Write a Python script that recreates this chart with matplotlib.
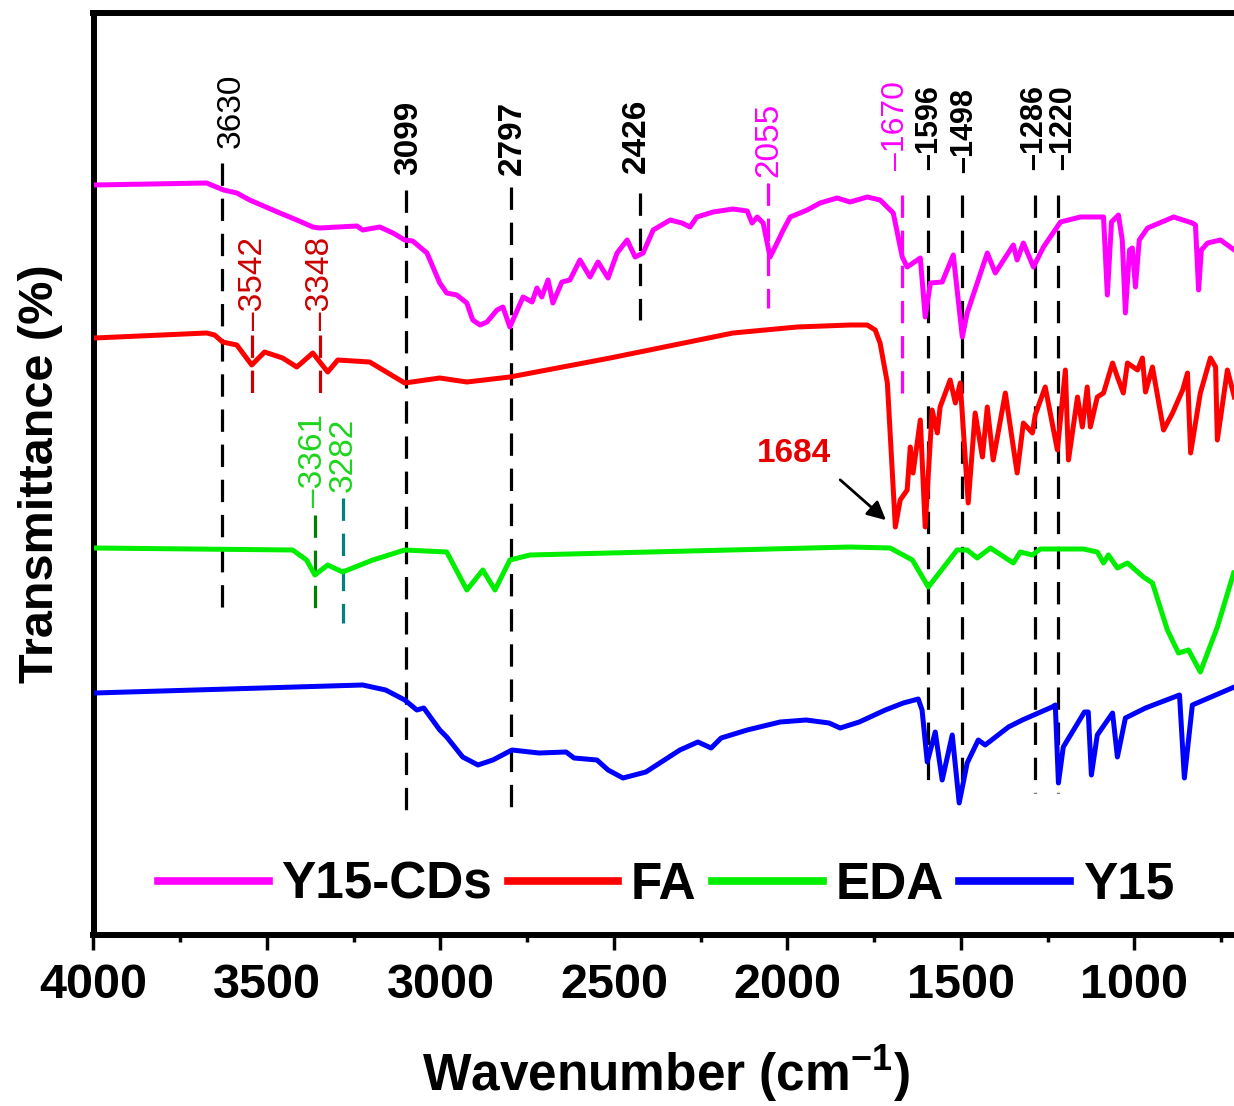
import matplotlib
matplotlib.use("Agg")
import matplotlib.pyplot as plt
from matplotlib.ticker import MultipleLocator

plt.rcParams["font.family"] = ["Liberation Sans", "DejaVu Sans"]
plt.rcParams["mathtext.fontset"] = "custom"
plt.rcParams["mathtext.rm"] = "Liberation Sans:bold"
plt.rcParams["mathtext.bf"] = "Liberation Sans:bold"
plt.rcParams["mathtext.default"] = "bf"

# FTIR spectra (wavenumber in cm-1, transmittance in arbitrary offset units)
cds_wn = [3997, 3674, 3625, 3587, 3550, 3463, 3414, 3368, 3348, 3241, 3224, 3175, 3137, 3103,
          3080, 3039, 3002, 2982, 2953, 2924, 2907, 2886, 2866, 2837, 2820, 2800, 2762, 2736,
          2722, 2708, 2690, 2676, 2650, 2627, 2598, 2569, 2546, 2517, 2491, 2462, 2439, 2416,
          2387, 2338, 2304, 2281, 2261, 2214, 2157, 2116, 2102, 2087, 2070, 2050, 2030, 2012,
          1992, 1943, 1906, 1857, 1819, 1770, 1733, 1695, 1669, 1655, 1617, 1603, 1588, 1554,
          1522, 1496, 1482, 1424, 1401, 1349, 1338, 1320, 1291, 1262, 1213, 1156, 1098, 1089,
          1078, 1066, 1046, 1035, 1026, 1014, 1006, 997, 986, 962, 887, 833, 824, 815, 807, 789,
          752, 712]
cds_t = [75.0, 75.2, 74.5, 74.2, 73.5, 72.2, 71.5, 70.8, 70.7, 70.9, 70.5, 70.8, 70.2, 69.5,
         69.4, 68.2, 65.2, 64.2, 64.0, 63.2, 61.5, 61.0, 61.3, 62.5, 62.8, 60.8, 63.8, 63.3,
         64.7, 63.8, 65.5, 63.2, 65.3, 65.5, 67.5, 65.8, 67.3, 65.7, 68.2, 69.5, 67.8, 68.2,
         70.5, 71.5, 71.2, 70.8, 71.8, 72.3, 72.6, 72.4, 71.2, 71.8, 71.2, 67.8, 69.2, 70.5,
         71.8, 72.5, 73.2, 73.7, 73.3, 73.8, 73.5, 72.2, 67.8, 66.8, 67.7, 61.8, 65.2, 65.3,
         68.0, 59.8, 62.2, 68.2, 66.2, 69.0, 67.5, 69.2, 66.8, 68.8, 71.3, 71.8, 71.8, 71.8,
         64.0, 71.3, 72.0, 69.5, 62.2, 68.5, 68.7, 64.8, 69.5, 70.7, 71.8, 71.2, 71.0, 64.5,
         68.5, 69.2, 69.5, 68.5]

fa_wn = [3997, 3674, 3651, 3628, 3587, 3544, 3507, 3455, 3414, 3368, 3325, 3296, 3204, 3103,
         3002, 2924, 2800, 2511, 2157, 1972, 1819, 1770, 1747, 1733, 1712, 1689, 1675, 1655,
         1646, 1638, 1617, 1603, 1583, 1568, 1560, 1531, 1516, 1502, 1479, 1459, 1438, 1424,
         1407, 1372, 1338, 1320, 1294, 1286, 1257, 1222, 1199, 1190, 1164, 1150, 1136, 1127,
         1107, 1089, 1063, 1049, 1032, 1020, 991, 977, 968, 948, 916, 890, 861, 847, 838, 810,
         781, 766, 761, 732, 712]
fa_t = [59.7, 60.2, 60.0, 59.3, 59.0, 57.0, 58.3, 57.7, 56.8, 58.2, 56.3, 57.5, 57.3, 55.2,
        55.7, 55.3, 55.8, 57.7, 60.2, 60.8, 61.0, 61.0, 60.5, 59.2, 55.2, 40.8, 43.5, 44.5,
        48.8, 46.2, 51.5, 40.8, 52.5, 50.2, 52.8, 55.5, 53.2, 55.2, 43.2, 52.2, 47.8, 52.8,
        47.5, 54.2, 46.2, 51.2, 50.2, 52.0, 54.8, 48.5, 56.5, 47.5, 53.8, 50.8, 54.8, 50.8,
        53.8, 54.2, 57.2, 55.8, 54.2, 57.2, 56.5, 57.7, 54.3, 56.8, 50.5, 52.2, 54.5, 56.2,
        48.2, 54.2, 57.7, 56.8, 49.5, 56.5, 53.8]

eda_wn = [3997, 3426, 3386, 3362, 3325, 3282, 3195, 3103, 2982, 2924, 2878, 2843, 2800, 2742,
          1819, 1704, 1640, 1594, 1511, 1482, 1453, 1415, 1349, 1329, 1294, 1271, 1147, 1107,
          1089, 1075, 1049, 1020, 974, 948, 905, 873, 844, 810, 761, 714]
eda_t = [38.7, 38.5, 37.5, 36.0, 37.0, 36.3, 37.5, 38.5, 38.3, 34.5, 36.5, 34.5, 37.5, 38.0,
         38.8, 38.7, 37.5, 34.8, 38.5, 38.5, 37.7, 38.7, 37.2, 38.3, 38.0, 38.6, 38.6, 38.3,
         37.2, 38.0, 36.7, 37.2, 35.8, 35.2, 30.5, 28.2, 28.5, 26.3, 30.8, 36.2]

y15_wn = [3997, 3224, 3158, 3103, 3068, 3048, 3002, 2982, 2936, 2892, 2849, 2794, 2716, 2638,
          2615, 2549, 2517, 2474, 2408, 2310, 2258, 2220, 2191, 2116, 2021, 1946, 1880, 1848,
          1793, 1718, 1666, 1623, 1612, 1597, 1574, 1554, 1525, 1505, 1482, 1450, 1430, 1363,
          1323, 1237, 1228, 1219, 1205, 1144, 1133, 1124, 1107, 1063, 1049, 1026, 968, 870,
          856, 833, 712]
y15_t = [24.2, 25.0, 24.5, 23.5, 22.5, 22.7, 20.5, 19.8, 17.8, 17.0, 17.5, 18.5, 18.2, 18.3,
         17.7, 17.5, 16.5, 15.7, 16.3, 18.5, 19.3, 18.7, 19.7, 20.5, 21.3, 21.5, 21.2, 20.7,
         21.3, 22.5, 23.2, 23.6, 22.5, 17.3, 20.3, 15.5, 20.0, 13.2, 17.2, 19.5, 19.0, 20.8,
         21.5, 22.8, 23.0, 15.2, 18.8, 22.3, 22.3, 16.0, 20.0, 22.2, 17.8, 21.7, 22.7, 24.0,
         15.7, 23.0, 24.8]

series_names = ["Y15-CDs", "FA", "EDA", "Y15"]
series_colors = ["#FF00FF", "#FF0000", "#00EE00", "#0000FF"]
series_wn = [cds_wn, fa_wn, eda_wn, y15_wn]
series_t = [cds_t, fa_t, eda_t, y15_t]

# peak markers: wavenumber, label text
peak_wn = [3630, 3099, 2797, 2426, 2055, 1670, 1596, 1498, 1286, 1220, 3542, 3348, 3361, 3282]
peak_txt = ["3630", "3099", "2797", "2426", "2055", "\u20131670", "\u20131596", "\u20131498",
            "\u20131286", "\u20131220", "\u20133542", "\u20133348", "\u20133361", "3282"]

# layout of the markers (line top/bottom, label bottom, colours, sizes, x nudge in px)
mark_top = [77.2, 74.5, 74.8, 74.2, 75.2, 74.0, 74.0, 74.0, 74.0, 74.0, 60.0, 60.0, 42.0, 43.7]
mark_bot = [32.2, 12.0, 12.5, 61.5, 62.7, 53.8, 14.8, 14.5, 14.2, 14.2, 53.5, 53.8, 32.0, 31.2]
label_y = [78.7, 76.0, 76.0, 76.2, 75.8, 76.5, 76.5, 76.2, 76.5, 76.5, 60.5, 60.5, 42.8, 44.3]
label_col = ["black"] * 4 + ["#FF00FF"] * 2 + ["black"] * 4 + ["#CC0000"] * 2 + ["#1ED41E"] * 2
line_col = ["black"] * 4 + ["#FF00FF"] * 2 + ["black"] * 4 + ["#CC0000"] * 2 + ["#008000", "#008080"]
label_w = ["normal", "bold", "bold", "bold", "normal", "normal", "bold", "bold", "bold", "bold",
           "normal", "normal", "normal", "normal"]
label_fs = [24, 24, 24, 24, 24, 23, 22, 22, 22, 22, 24, 24, 24, 24]
label_dx = [9, 3, 1, -3, 1, -6, 2, 3, -1, 5, 1, 1, -2, 1]

fig = plt.figure(figsize=(12.34, 11.06), dpi=100)
ax = fig.add_axes([93.5 / 1234, 171 / 1106, 1145 / 1234, 922 / 1106])

for name, wn, tr, col in zip(series_names, series_wn, series_t, series_colors):
    ax.plot(wn, tr, color=col, lw=3.6, label=name, solid_joinstyle="round", zorder=3)

for pk, txt, top, bot, ly, tc, lc, w, fs, dx in zip(peak_wn, peak_txt, mark_top, mark_bot,
                                                    label_y, label_col, line_col, label_w,
                                                    label_fs, label_dx):
    ax.plot([pk, pk], [top, bot], color=lc, lw=2.3, dashes=(7, 4), zorder=2)
    ax.annotate(txt, xy=(pk, ly), xytext=(dx * 0.72, 0), textcoords="offset points",
                rotation=90, ha="center", va="bottom", color=tc, fontsize=fs, fontweight=w)

ax.annotate("", xy=(1710, 41.3), xytext=(1854, 45.7),
            arrowprops=dict(arrowstyle="-|>", color="black", lw=2, mutation_scale=28))
ax.text(1981, 48.2, "1684", color="#E60000", fontsize=24, fontweight="bold",
        ha="center", va="center")

ax.set_xlim(4000, 700)
ax.set_ylim(0, 92.2)
ax.set_xticks([4000, 3500, 3000, 2500, 2000, 1500, 1000])
ax.xaxis.set_minor_locator(MultipleLocator(250))
ax.set_yticks([])
ax.tick_params(axis="x", which="major", direction="out", length=11, width=2.5,
               labelsize=35, pad=9)
ax.tick_params(axis="x", which="minor", direction="out", length=5, width=2.5)
for lab in ax.get_xticklabels():
    lab.set_fontweight("bold")

for side in ["left", "top", "bottom"]:
    ax.spines[side].set_linewidth(4.3)
ax.spines["right"].set_visible(False)

ax.set_xlabel("Wavenumber (cm$^{-1}$)", fontsize=37, fontweight="bold", labelpad=26)
ax.set_ylabel("Transmittance (%)", fontsize=35, fontweight="bold", labelpad=22)

leg = ax.legend(loc="center", bbox_to_anchor=(0.5, 0.054), ncol=4, frameon=False,
                handlelength=2.15, handletextpad=0.25, columnspacing=0.3,
                prop={"weight": "bold", "size": 37})
for line in leg.get_lines():
    line.set_linewidth(5.5)

fig.savefig("out.png", dpi=100)
